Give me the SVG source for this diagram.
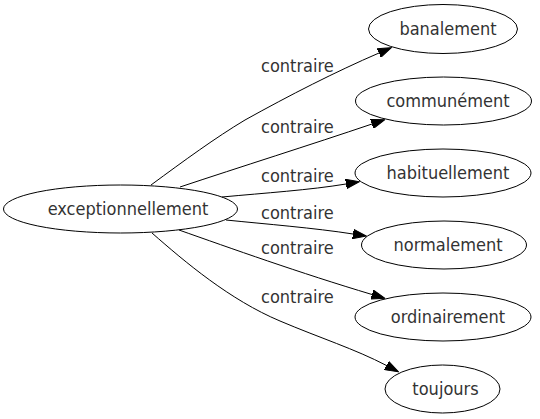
<svg xmlns="http://www.w3.org/2000/svg" width="540" height="419" viewBox="0 0 540 419">
<style>
.n ellipse{fill:none;stroke:#000;stroke-width:1}
.n text{font-family:"DejaVu Sans Condensed","DejaVu Sans",sans-serif;font-stretch:condensed;font-size:18px;fill:#333;text-anchor:middle}
.e path{fill:none;stroke:#000;stroke-width:1;marker-end:url(#arr)}
.e text{font-family:"DejaVu Sans Condensed","DejaVu Sans",sans-serif;font-stretch:condensed;font-size:18px;fill:#333}
</style>
<defs>
<marker id="arr" markerUnits="userSpaceOnUse" markerWidth="14" markerHeight="10" refX="0" refY="5" orient="auto">
<path d="M0,0.3 L13.5,5 L0,9.7 z" fill="#000" stroke="#000" stroke-width="1"/>
</marker>
</defs>
<rect width="540" height="419" fill="#fff"/>
<g id="edges" class="e">
<path d="M151,185 C185,160 215,138 245,120 C290,95 335,72 379,53"/>
<text x="261" y="72">contraire</text>
<path d="M180,187 C240,167 310,145 372,124"/>
<text x="261" y="133">contraire</text>
<path d="M222,197 C265,193 310,190 346,184"/>
<text x="261" y="182">contraire</text>
<path d="M226,220 C265,224 315,228 353,234"/>
<text x="261" y="219">contraire</text>
<path d="M179,230 C230,248 300,273 372,294.5"/>
<text x="261" y="254">contraire</text>
<path d="M152,233 C185,262 230,300 280,321 C320,338 355,349 386.5,365.5"/>
<text x="261" y="303">contraire</text>
</g>
<g id="exceptionnellement" class="n">
<ellipse cx="120.5" cy="209" rx="117" ry="24"/>
<text x="128" y="215">exceptionnellement</text>
</g>
<g id="banalement" class="n">
<ellipse cx="443" cy="29" rx="74.5" ry="24.5"/>
<text x="448" y="35">banalement</text>
</g>
<g id="communement" class="n">
<ellipse cx="443.5" cy="101" rx="88" ry="24"/>
<text x="448" y="107">communément</text>
</g>
<g id="habituellement" class="n">
<ellipse cx="443" cy="173" rx="88" ry="24"/>
<text x="448" y="179">habituellement</text>
</g>
<g id="normalement" class="n">
<ellipse cx="444" cy="245" rx="82.5" ry="24"/>
<text x="448" y="251">normalement</text>
</g>
<g id="ordinairement" class="n">
<ellipse cx="443" cy="317" rx="88" ry="24"/>
<text x="448" y="323">ordinairement</text>
</g>
<g id="toujours" class="n">
<ellipse cx="442.5" cy="389" rx="57.5" ry="24"/>
<text x="445.5" y="395">toujours</text>
</g>
</svg>
